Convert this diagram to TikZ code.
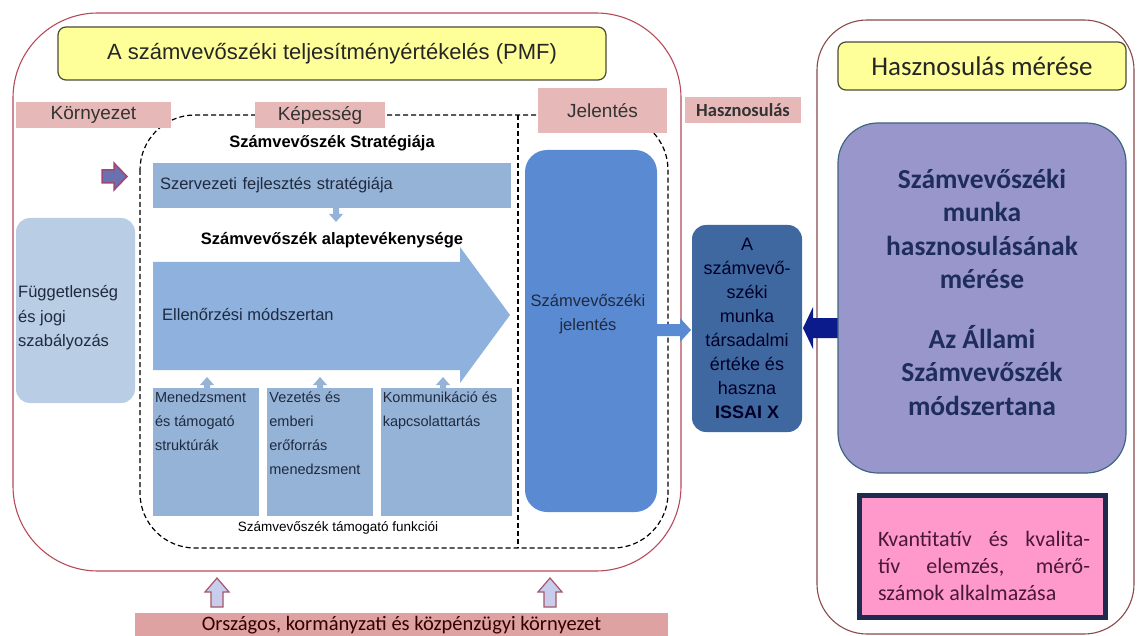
\documentclass[tikz,border=0pt]{standalone}
\usepackage{fontspec}
\setmainfont{Liberation Sans}
\newfontfamily\calib{Carlito}
\usetikzlibrary{positioning, calc}
\definecolor{labelpink}{HTML}{E6B9B8}
\definecolor{barpink}{HTML}{DFA2A2}
\definecolor{titleyellow}{HTML}{FFFF99}
\definecolor{titleborder}{HTML}{4A4A38}
\definecolor{framered}{HTML}{B84A5A}
\definecolor{framebrown}{HTML}{8A4A4A}
\definecolor{barblue}{HTML}{95B3D7}
\definecolor{arrowblue}{HTML}{8FB1DD}
\definecolor{paleblue}{HTML}{B9CDE5}
\definecolor{jelblue}{HTML}{5A8AD2}
\definecolor{socblue}{HTML}{3F68A0}
\definecolor{lila}{HTML}{9996CC}
\definecolor{lilaborder}{HTML}{3F6680}
\definecolor{navytext}{HTML}{1F2D5A}
\definecolor{kpink}{HTML}{FF99CC}
\definecolor{kborder}{HTML}{1E2B4E}
\definecolor{ktext}{HTML}{4A1838}
\definecolor{darktext}{HTML}{1F2A3F}
\definecolor{navyarrow}{HTML}{0B1B8C}
\definecolor{uparrowfill}{HTML}{C8CDEB}
\definecolor{uparrowline}{HTML}{A5566A}
\definecolor{smallarrow}{HTML}{6A70B0}
\definecolor{smallarrowline}{HTML}{9A4A7A}

\begin{document}
\begin{tikzpicture}[
    x=1pt, y=-1pt,
    every node/.style={inner sep=0pt, text=darktext},
    pinklabel/.style={fill=labelpink, minimum height=26pt, text=black!80,
                      font=\fontsize{19}{22}\selectfont},
    yellowbox/.style={fill=titleyellow, draw=titleborder, line width=1.2pt,
                      rounded corners=8pt},
    bluebar/.style={fill=barblue},
    frame/.style={draw=framered, line width=1.1pt},
    dashedframe/.style={draw=black, line width=1.2pt, dash pattern=on 5pt off 3pt},
    bodytext/.style={font=\fontsize{16.5}{24.5}\selectfont},
    boldhead/.style={font=\bfseries\fontsize{16.5}{20}\selectfont, text=black},
    smalltext/.style={font=\fontsize{14.5}{24}\selectfont, align=left},
  ]
  \useasboundingbox[fill=white] (0,0) rectangle (1137,636);

  % keretek
  \draw[frame, rounded corners=85pt] (13,13) rectangle (681,571);
  \draw[frame, draw=framebrown, rounded corners=50pt] (817,20) rectangle (1134,634);
  \draw[dashedframe, rounded corners=55pt] (140,115) rectangle (668,548);
  \draw[dashedframe] (518,115) -- (518,548);

  % fejlecek
  \node[yellowbox, minimum width=548pt, minimum height=53pt,
        font=\fontsize{22}{26}\selectfont, text=black!85] (title) at (332,53.5)
        {A számvevőszéki teljesítményértékelés (PMF)};
  \node[pinklabel, minimum width=155pt] (env) at (93.5,115) {Környezet};
  \node[pinklabel, minimum width=130pt] (cap) at (320,115) {Képesség};
  \node[pinklabel, minimum width=129pt, minimum height=45pt] (rep) at (602.5,110.5) {Jelentés};
  \node[pinklabel, minimum width=116pt, font=\calib\bfseries\fontsize{18.5}{20}\selectfont]
        (use) at (743,110) {Hasznosulás};
  \node[yellowbox, minimum width=288pt, minimum height=48pt,
        font=\calib\fontsize{27}{30}\selectfont, text=black!85] (meas) at (982,66)
        {Hasznosulás mérése};

  % kornyezet
  \draw[fill=smallarrow, draw=smallarrowline, line width=1.5pt]
    (102,170) -- (114,170) -- (114,163) -- (127,176.5) -- (114,190) -- (114,183) -- (102,183) -- cycle;
  \node[fill=paleblue, rounded corners=14pt, minimum width=119pt, minimum height=185pt]
        (indep) at (75.5,310.5) {};
  \node[bodytext, anchor=west, align=left] (indeptxt) at (18,318)
        {Függetlenség\\és jogi\\szabályozás};

  % kepesseg
  \node[boldhead] (strathead) at (332,143) {Számvevőszék Stratégiája};
  \node[bluebar, bodytext, minimum width=358pt, minimum height=45pt, text width=344pt,
        inner xsep=7pt, align=left] (strat) at (332,185.5) {Szervezeti fejlesztés stratégiája};
  \fill[barblue] (333,208) -- (339,208) -- (339,214) -- (343,214) -- (336,222)
    -- (329,214) -- (333,214) -- cycle;
  \node[boldhead] (corehead) at (332,240) {Számvevőszék alaptevékenysége};
  \fill[arrowblue] (153,262) -- (460,262) -- (460,247) -- (510,315) -- (460,383)
    -- (460,370) -- (153,370) -- cycle;
  \node[bodytext, anchor=west] (method) at (162,315) {Ellenőrzési módszertan};

  \node[bluebar, minimum width=106pt, minimum height=128pt] (sup1) at (206,452) {};
  \node[bluebar, minimum width=106pt, minimum height=128pt, right=8pt of sup1] (sup2) {};
  \node[bluebar, minimum width=131pt, minimum height=128pt, right=7pt of sup2] (sup3) {};
  \foreach \x in {207,320,443}
    \fill[barblue] (\x-3,390) -- (\x+3,390) -- (\x+3,385) -- (\x+7,385) -- (\x,377)
      -- (\x-7,385) -- (\x-3,385) -- cycle;
  \node[smalltext, anchor=north west] at ([xshift=2pt, yshift=-4pt]sup1.north west)
        {Menedzsment\\és támogató\\struktúrák};
  \node[smalltext, anchor=north west] at ([xshift=2pt, yshift=-4pt]sup2.north west)
        {Vezetés és\\emberi\\erőforrás\\menedzsment};
  \node[smalltext, anchor=north west] at ([xshift=2pt, yshift=-4pt]sup3.north west)
        {Kommunikáció és\\kapcsolattartás};
  \node[font=\fontsize{13.5}{16}\selectfont, text=black] (supfoot) at (338,528)
        {Számvevőszék támogató funkciói};

  % jelentes
  \node[fill=jelblue, rounded corners=22pt, minimum width=132pt, minimum height=362pt]
        (jel) at (591,331) {};
  \node[bodytext, align=center] (jeltxt) at (588,314) {Számvevőszéki\\jelentés};
  \fill[jelblue] (657,324) -- (680,324) -- (680,318) -- (691,330) -- (680,342)
    -- (680,336) -- (657,336) -- cycle;

  % hasznosulas
  \node[fill=socblue, rounded corners=14pt, minimum width=110pt, minimum height=207pt,
        align=center, font=\fontsize{18}{24}\selectfont, text=black!85!blue] (soc) at (747,328.5)
        {A\\számvevő-\\széki\\munka\\társadalmi\\értéke és\\haszna\\\textbf{ISSAI X}};
  \fill[navyarrow] (845,318) -- (813,318) -- (813,307) -- (803,328) -- (813,349)
    -- (813,338) -- (845,338) -- cycle;
  \node[fill=lila, draw=lilaborder, line width=1.2pt, rounded corners=40pt,
        minimum width=288pt, minimum height=350pt] (lila) at (982,298) {};
  \node[font=\calib\bfseries\fontsize{27.5}{33.5}\selectfont, text=navytext, align=center]
        (lilatxt) at (982,292)
        {Számvevőszéki\\munka\\hasznosulásának\\mérése\\[26pt]Az Állami\\Számvevőszék\\módszertana};
  \node[fill=kpink, draw=kborder, line width=5pt, minimum width=246pt, minimum height=122pt]
        (kbox) at (982.5,556.5) {};
  \node[font=\calib\fontsize{22}{27}\selectfont, text=ktext, align=left] (ktxt) at (984,566)
        {\makebox[212pt][s]{Kvantitatív és kvalita-}\\\makebox[212pt][s]{tív elemzés, mérő-}\\számok alkalmazása};

  % orszagos kornyezet
  \foreach \x in {217,550}
    \draw[fill=uparrowfill, draw=uparrowline, line width=1.2pt]
      (\x,578) -- (\x+12,592) -- (\x+6,592) -- (\x+6,607) -- (\x-6,607) -- (\x-6,592)
      -- (\x-12,592) -- cycle;
  \node[fill=barpink, minimum width=533pt, minimum height=24pt,
        font=\calib\fontsize{20.5}{22}\selectfont, text=black!80!red] (national) at (401.5,625)
        {Országos, kormányzati és közpénzügyi környezet};
\end{tikzpicture}
\end{document}
